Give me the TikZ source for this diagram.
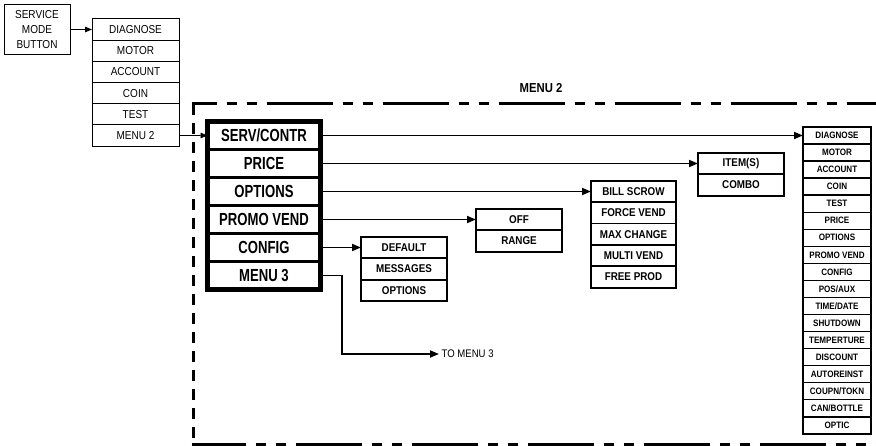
\documentclass[tikz,border=0pt]{standalone}
\usepackage{fontspec}
\setmainfont{Liberation Sans}
\newfontfamily\narrowsf[FakeStretch=0.87]{Liberation Sans}
\newfontfamily\condsf[FakeStretch=0.75]{Liberation Sans}
\usetikzlibrary{arrows.meta,positioning,fit}

\begin{document}
\begin{tikzpicture}[x=1pt, y=-1pt,
  plainbox/.style={draw, line width=0.9pt, outer sep=0pt, inner sep=0pt,
                   minimum width=87pt, minimum height=21.2pt,
                   font=\narrowsf\fontsize{11.5}{15}\selectfont},
  mainbox/.style={draw, line width=3.5pt, outer sep=0pt, inner sep=0pt,
                  minimum width=113pt, minimum height=28pt,
                  font=\condsf\bfseries\fontsize{17.5}{20}\selectfont},
  subbox/.style={draw, line width=1.8pt, outer sep=0pt, inner sep=0pt,
                 minimum width=86pt, minimum height=21.5pt,
                 font=\narrowsf\bfseries\fontsize{11.3}{13}\selectfont},
  funcbox/.style={draw, line width=1.4pt, outer sep=0pt, inner sep=0pt,
                  minimum width=68pt, minimum height=17.05pt,
                  font=\narrowsf\bfseries\fontsize{9.3}{11}\selectfont},
  arr/.style={-{Triangle[length=9pt,width=7pt]}, line width=1.8pt},
  thinarr/.style={-{Triangle[length=7pt,width=5.5pt]}, line width=0.9pt},
  frameline/.style={line width=3pt},
  node distance=0pt
]
\useasboundingbox (0,0) rectangle (876,446);

% service mode entry
\node[plainbox, minimum width=66pt, minimum height=50pt, align=center] (svc) at (37,29.5) {SERVICE\\MODE\\BUTTON};
\node[plainbox] (dg) at (135.5,29.5) {DIAGNOSE};
\node[plainbox, below=of dg] (mt) {MOTOR};
\node[plainbox, below=of mt] (ac) {ACCOUNT};
\node[plainbox, below=of ac] (cn) {COIN};
\node[plainbox, below=of cn] (ts) {TEST};
\node[plainbox, below=of ts] (mn2) {MENU 2};

% menu 2 frame
\node[font=\narrowsf\bfseries\fontsize{13}{15}\selectfont] (menutwo) at (541,88) {MENU 2};
\draw[frameline, dash pattern=on 66pt off 10pt on 10pt off 10pt on 10pt off 10pt, dash phase=41pt] (191.5,104) -- (876,104);
\draw[frameline, dash pattern=on 11pt off 8pt] (193,104) -- (193,444.5);
\draw[frameline, dash pattern=on 66pt off 10pt on 10pt off 10pt on 10pt off 10pt, dash phase=12pt] (191.5,444.5) -- (876,444.5);

% menu 2 items
\node[mainbox] (sc) at (264,135.5) {SERV/CONTR};
\node[mainbox, below=of sc] (pr) {PRICE};
\node[mainbox, below=of pr] (op) {OPTIONS};
\node[mainbox, below=of op] (pv) {PROMO VEND};
\node[mainbox, below=of pv] (cf) {CONFIG};
\node[mainbox, below=of cf] (m3) {MENU 3};
\node[fit=(sc)(m3), draw, line width=5pt, inner sep=0pt, outer sep=0pt] (mainlist) {};

% sub menus
\node[subbox] (def) at (404,247.5) {DEFAULT};
\node[subbox, below=of def] (msg) {MESSAGES};
\node[subbox, below=of msg] (opt) {OPTIONS};

\node[subbox] (off) at (519,219.5) {OFF};
\node[subbox, below=of off] (rng) {RANGE};

\node[subbox, minimum width=85pt, minimum height=21.4pt] (bill) at (633.5,191.5) {BILL SCROW};
\node[subbox, minimum width=85pt, minimum height=21.4pt, below=of bill] (force) {FORCE VEND};
\node[subbox, minimum width=85pt, minimum height=21.4pt, below=of force] (maxc) {MAX CHANGE};
\node[subbox, minimum width=85pt, minimum height=21.4pt, below=of maxc] (multi) {MULTI VEND};
\node[subbox, minimum width=85pt, minimum height=21.4pt, below=of multi] (free) {FREE PROD};

\node[subbox] (itm) at (741,163.5) {ITEM(S)};
\node[subbox, below=of itm] (cmb) {COMBO};

% serv/contr functions
\node[funcbox] (fdiag) at (837,135.5) {DIAGNOSE};
\node[funcbox, below=of fdiag] (fmot) {MOTOR};
\node[funcbox, below=of fmot] (facc) {ACCOUNT};
\node[funcbox, below=of facc] (fcoin) {COIN};
\node[funcbox, below=of fcoin] (ftest) {TEST};
\node[funcbox, below=of ftest] (fprice) {PRICE};
\node[funcbox, below=of fprice] (fopt) {OPTIONS};
\node[funcbox, below=of fopt] (fpromo) {PROMO VEND};
\node[funcbox, below=of fpromo] (fconf) {CONFIG};
\node[funcbox, below=of fconf] (fpos) {POS/AUX};
\node[funcbox, below=of fpos] (ftime) {TIME/DATE};
\node[funcbox, below=of ftime] (fshut) {SHUTDOWN};
\node[funcbox, below=of fshut] (ftemp) {TEMPERTURE};
\node[funcbox, below=of ftemp] (fdisc) {DISCOUNT};
\node[funcbox, below=of fdisc] (fauto) {AUTOREINST};
\node[funcbox, below=of fauto] (fcoup) {COUPN/TOKN};
\node[funcbox, below=of fcoup] (fcan) {CAN/BOTTLE};
\node[funcbox, below=of fcan] (foptic) {OPTIC};

\node[anchor=west, inner sep=2.5pt, font=\narrowsf\fontsize{11}{13}\selectfont] (tomenu) at (439,354) {TO MENU 3};
\coordinate (turn) at (342,354);

\draw[thinarr] (svc) -- (dg);
\draw[thinarr] (mn2) -- (sc);
\draw[arr] (sc) -- (fdiag);
\draw[arr] (pr) -- (itm);
\draw[arr] (op) -- (bill);
\draw[arr] (pv) -- (off);
\draw[arr] (cf) -- (def);
\draw[arr] (m3.east) -| (turn) -- (tomenu.west);
\end{tikzpicture}
\end{document}
